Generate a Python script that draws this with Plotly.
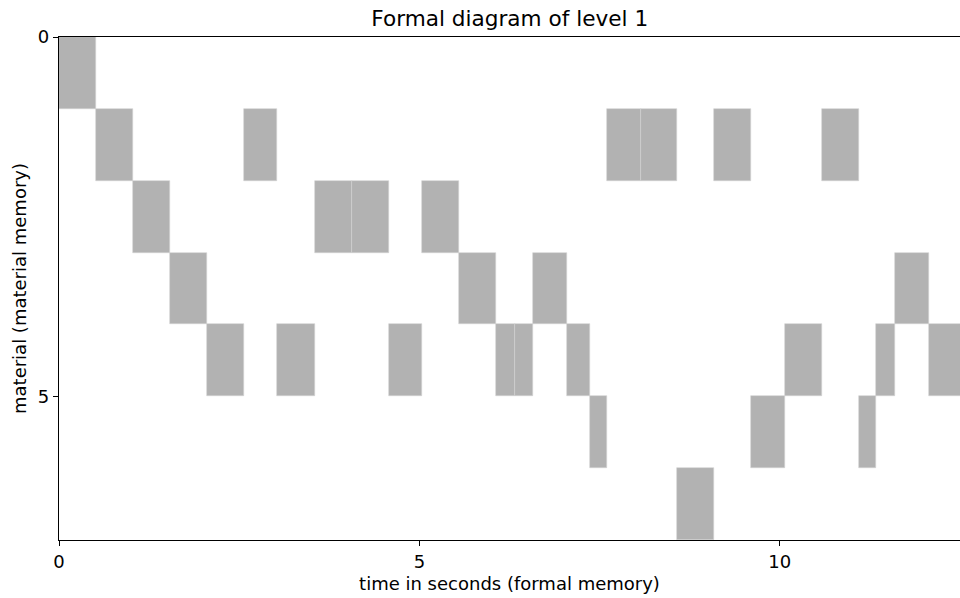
import plotly.graph_objects as go

# Event data: start time (s), duration (s), material row
onsets = [0.0, 0.514, 1.028, 1.54, 2.05, 2.57, 3.03, 3.546, 4.06, 4.573,
          5.036, 5.55, 6.06, 6.33, 6.57, 7.046, 7.365, 7.6, 8.07, 8.58,
          9.09, 9.6, 10.07, 10.58, 11.1, 11.33, 11.6, 12.07]
durations = [0.514, 0.514, 0.512, 0.51, 0.52, 0.46, 0.516, 0.514, 0.513, 0.463,
             0.514, 0.51, 0.27, 0.24, 0.476, 0.319, 0.235, 0.47, 0.505, 0.51,
             0.51, 0.47, 0.51, 0.52, 0.23, 0.27, 0.47, 0.5]
materials = [0, 1, 2, 3, 4, 1, 4, 2, 2, 4,
             2, 3, 4, 4, 3, 4, 5, 1, 1, 6,
             1, 5, 4, 1, 5, 4, 3, 4]

x_ticks = [0, 5, 10]
y_ticks = [0, 5]

fig = go.Figure()
fig.add_trace(go.Bar(
    orientation="h",
    base=onsets,
    x=durations,
    y=[m + 0.5 for m in materials],
    width=1,
    marker=dict(color="#b2b2b2", line=dict(color="#d2d2d2", width=0.6)),
    showlegend=False,
    hoverinfo="skip",
))

axis_common = dict(
    showgrid=False, zeroline=False, showline=True, linecolor="black",
    linewidth=1.3, ticks="outside", ticklen=5, tickwidth=1.3, tickcolor="black",
    tickfont=dict(size=18, color="black"), automargin=False,
)

fig.update_layout(
    width=960, height=598,
    margin=dict(l=59, r=0, t=37, b=58),
    paper_bgcolor="white", plot_bgcolor="white",
    font=dict(family="DejaVu Sans", size=18, color="black"),
    title=dict(text="Formal diagram of level 1", x=0.531, xanchor="center",
               y=0.969, yanchor="middle", font=dict(size=21.6, color="black")),
    bargap=0,
    xaxis=dict(range=[0, 12.5], tickvals=x_ticks, mirror=True,
               title=dict(text="time in seconds (formal memory)", standoff=6,
                          font=dict(size=18)),
               **axis_common),
    yaxis=dict(range=[7, 0], tickvals=y_ticks,
               title=dict(text="material (material memory)", standoff=6,
                          font=dict(size=18)),
               **axis_common),
)

fig.write_html(
    "out.html",
    config={"displayModeBar": False},
    post_script="document.body.style.margin='0';document.body.style.overflow='hidden';",
)
